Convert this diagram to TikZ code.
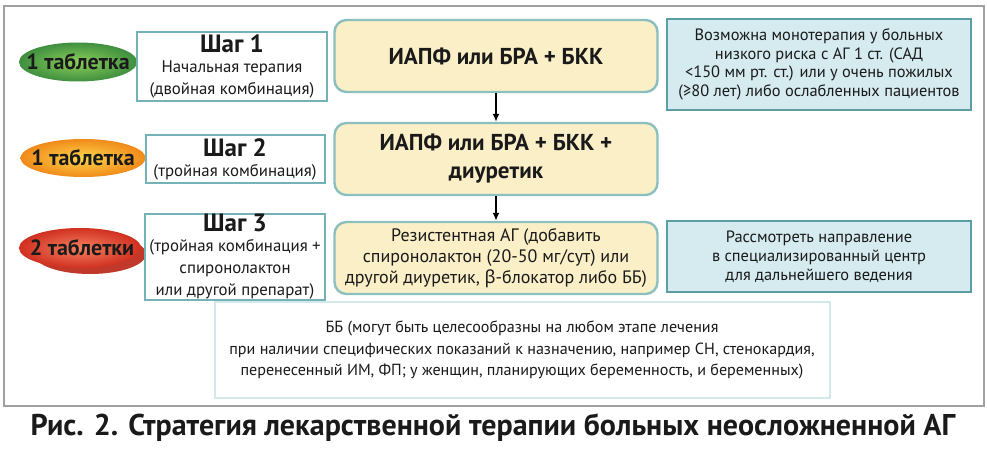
\documentclass[tikz,border=0pt]{standalone}
\usepackage{fontspec}
\setmainfont{PT Sans}
\newfontfamily\greekfont{Noto Sans}
\usetikzlibrary{arrows.meta}

\definecolor{framegray}{HTML}{A0A0A0}
\definecolor{stepline}{HTML}{74B2B8}
\definecolor{drugfill}{HTML}{FBEFC8}
\definecolor{drugline}{HTML}{8CC0BE}
\definecolor{notefill}{HTML}{D5EBEF}
\definecolor{noteline}{HTML}{5C9EA3}
\definecolor{bbline}{HTML}{D2E8EB}
\definecolor{inktext}{HTML}{1A1A1A}
\definecolor{greenin}{HTML}{8CCF5A}
\definecolor{greenout}{HTML}{3F8F3F}
\definecolor{orangein}{HTML}{FFD54A}
\definecolor{orangeout}{HTML}{F08A1A}
\definecolor{redin}{HTML}{F58060}
\definecolor{redout}{HTML}{D03020}
\definecolor{redback}{HTML}{C0392B}

\tikzset{
  stepbox/.style={draw=stepline, line width=1pt, fill=white, align=center, inner sep=0pt, text=inktext},
  drugbox/.style={draw=drugline, line width=1.2pt, fill=drugfill, rounded corners=6pt, align=center, inner sep=0pt, text=inktext, minimum width=161.5pt, minimum height=36pt},
  notebox/.style={draw=noteline, line width=0.8pt, fill=notefill, align=center, inner sep=0pt, text=inktext, minimum width=152pt},
  pilltext/.style={font=\fontsize{11}{13}\selectfont\bfseries, text=inktext, inner sep=0pt},
  flowarrow/.style={-{Latex[length=4pt,width=3.5pt]}, line width=0.8pt}
}

\begin{document}
\begin{tikzpicture}[x=0.5pt, y=-0.5pt]
  \useasboundingbox (0,0) rectangle (987,449);
  % frame
  \draw[framegray, line width=0.8pt] (4,6) rectangle (984,406);

  % pills
  \shade[inner color=greenin, outer color=greenout] (78,62) ellipse [x radius=29.5pt, y radius=9.75pt];
  \node[pilltext] (pill1) at (78,62) {1 таблетка};
  \shade[inner color=orangein, outer color=orangeout] (83,158) ellipse [x radius=31.25pt, y radius=9.5pt];
  \node[pilltext] (pill2) at (83,158) {1 таблетка};
  \fill[redback] (90,254) ellipse [x radius=28pt, y radius=10pt];
  \shade[inner color=redin, outer color=redout] (80,248) ellipse [x radius=30.5pt, y radius=10pt];
  \node[pilltext] (pill3) at (82,248) {2 таблетки};

  % steps
  \node[stepbox, minimum width=95pt, minimum height=34.5pt] (step1) at (232,66.5)
    {{\fontsize{12.5}{13}\selectfont\bfseries Шаг 1}\\[-2pt]
     {\fontsize{8.4}{10}\selectfont Начальная терапия}\\[-1pt]
     {\fontsize{8.4}{10}\selectfont (двойная комбинация)}};
  \node[stepbox, minimum width=89.5pt, minimum height=24pt] (step2) at (235,159)
    {{\fontsize{12.5}{13}\selectfont\bfseries Шаг 2}\\[-2pt]
     {\fontsize{8.4}{10}\selectfont (тройная комбинация)}};
  \node[stepbox, minimum width=90pt, minimum height=41.5pt] (step3) at (235,257)
    {{\fontsize{12.5}{13}\selectfont\bfseries Шаг 3}\\[-2pt]
     {\fontsize{8.4}{10}\selectfont (тройная комбинация +}\\[-1pt]
     {\fontsize{8.4}{10}\selectfont спиронолактон}\\[-1pt]
     {\fontsize{8.4}{10}\selectfont или другой препарат)}};

  % drugs
  \node[drugbox, font=\fontsize{11.5}{14}\selectfont\bfseries] (drug1) at (496,56) {ИАПФ или БРА + БКК};
  \node[drugbox, font=\fontsize{11.5}{14}\selectfont\bfseries] (drug2) at (496,159) {ИАПФ или БРА + БКК +\\диуретик};
  \node[drugbox, font=\fontsize{9}{10.5}\selectfont] (drug3) at (496,258)
    {Резистентная АГ (добавить\\спиронолактон (20-50 мг/сут) или\\другой диуретик, {\greekfont β}-блокатор либо ББ)};
  \draw[flowarrow] (drug1) -- (drug2);
  \draw[flowarrow] (drug2) -- (drug3);

  % notes
  \node[notebox, minimum height=45.5pt, font=\fontsize{8.2}{9.3}\selectfont] (note1) at (819,64.5)
    {Возможна монотерапия у больных\\низкого риска с АГ 1 ст. (САД\\<150 мм рт. ст.) или у очень пожилых\\(≥80 лет) либо ослабленных пациентов};
  \node[notebox, minimum height=35.5pt, font=\fontsize{8.2}{9.5}\selectfont] (note2) at (819,256.5)
    {Рассмотреть направление\\в специализированный центр\\для дальнейшего ведения};

  % beta-blockers
  \node[draw=bbline, line width=1pt, fill=white, align=center, inner sep=0pt,
        minimum width=307.5pt, minimum height=47.5pt, text=inktext,
        font=\fontsize{8.05}{10.8}\selectfont] (bbnote) at (522,350)
    {ББ (могут быть целесообразны на любом этапе лечения\\при наличии специфических показаний к назначению, например СН, стенокардия,\\перенесенный ИМ, ФП; у женщин, планирующих беременность, и беременных)};

  % caption
  \node[font=\fontsize{15}{17}\selectfont\bfseries, text=inktext] (caption) at (493,428)
    {Рис. 2. Стратегия лекарственной терапии больных неосложненной АГ};
\end{tikzpicture}
\end{document}
